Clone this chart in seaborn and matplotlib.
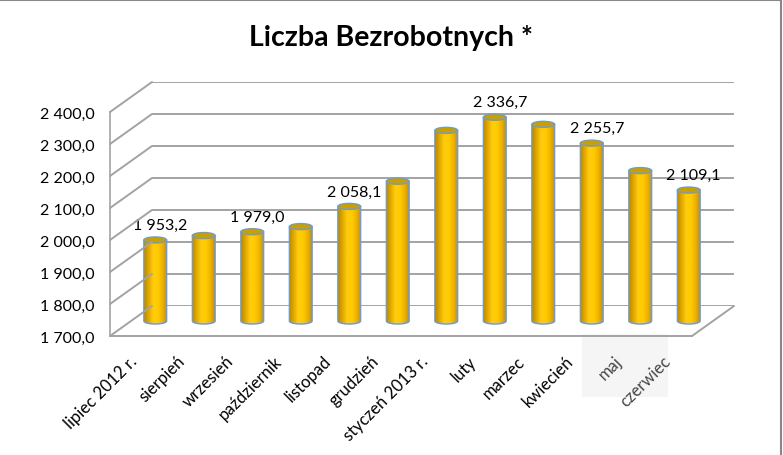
import numpy as np
import pandas as pd
import matplotlib
matplotlib.use("Agg")
import matplotlib.pyplot as plt
import seaborn as sns
from matplotlib.patches import Ellipse, ConnectionPatch, Rectangle, PathPatch
from matplotlib.colors import LinearSegmentedColormap
from matplotlib.lines import Line2D
from matplotlib.path import Path

# dane: liczba bezrobotnych (tys.)
miesiace = ["lipiec 2012 r.", "sierpień", "wrzesień", "październik", "listopad",
            "grudzień", "styczeń 2013 r.", "luty", "marzec", "kwiecień", "maj", "czerwiec"]
wartosci = [1953.2, 1967.0, 1979.0, 1995.0, 2058.1, 2136.8,
            2295.7, 2336.7, 2314.5, 2255.7, 2170.0, 2109.1]
opisane = [0, 2, 4, 7, 9, 11]          # słupki z etykietą wartości
y_ticks = [1700, 1800, 1900, 2000, 2100, 2200, 2300, 2400]
y_min, y_max = 1700, 2400

df = pd.DataFrame({"miesiac": miesiace, "wartosc": wartosci})


def fmt(v):
    # format polski: spacja jako separator tysięcy, przecinek dziesiętny
    return f"{v:,.1f}".replace(",", " ").replace(".", ",")


sns.set_theme(style="white")
plt.rcParams["font.family"] = ["Lato", "DejaVu Sans"]

W, H = 783, 456
fig = plt.figure(figsize=(W / 100, H / 100), dpi=100)

# geometria "3D": przednia ściana, płaszczyzna słupków, tylna ściana (w pikselach)
fx0, fx1, fy0, fy1 = 110, 692, 337, 113
dx, dy = 21, 15


def make_ax(ox, oy):
    a = fig.add_axes([(fx0 + ox) / W, (H - fy0 + oy) / H,
                      (fx1 - fx0) / W, (fy0 - fy1) / H])
    a.set_xlim(-0.5, len(miesiace) - 0.5)
    a.set_ylim(y_min, y_max)
    a.patch.set_alpha(0)
    for s in a.spines.values():
        s.set_visible(False)
    return a


ax_back = make_ax(2 * dx, 2 * dy)
ax_front = make_ax(0, 0)
ax = make_ax(dx, dy)

grid_col = "#a3a3a3"

# tylna ściana - linie siatki
ax_back.set_xticks([])
ax_back.set_yticks([])
for v in y_ticks:
    ax_back.axhline(v, color=grid_col, lw=1.4, zorder=0)

# boczna ściana i podłoga - ukośne linie
for v in y_ticks:
    fig.add_artist(ConnectionPatch(xyA=(-0.5, v), coordsA=ax_front.transData,
                                   xyB=(-0.5, v), coordsB=ax_back.transData,
                                   color=grid_col, lw=1.4))
fig.add_artist(ConnectionPatch(xyA=(len(miesiace) - 0.5, y_min), coordsA=ax_front.transData,
                               xyB=(len(miesiace) - 0.5, y_min), coordsB=ax_back.transData,
                               color=grid_col, lw=1.4))

# przednia oś Y
ax_front.spines["left"].set_visible(True)
ax_front.spines["left"].set_color(grid_col)
ax_front.spines["left"].set_linewidth(1.2)
ax_front.set_yticks(y_ticks)
ax_front.set_yticklabels([fmt(v) for v in y_ticks])
ax_front.tick_params(axis="y", direction="out", length=7, width=1.2, color=grid_col,
                     labelsize=11.5, pad=4, labelcolor="black")

# przednia krawędź podłogi
ax_front.add_line(Line2D([-0.5, len(miesiace) - 0.5], [y_min, y_min], color=grid_col,
                         lw=1.4, zorder=1, clip_on=False))
ax_front.set_xticks(np.arange(len(miesiace)))
ax_front.set_xticklabels(miesiace, rotation=45, ha="right", va="center",
                         rotation_mode="anchor")
ax_front.set_xticks(np.arange(-0.5, len(miesiace)), minor=True)
ax_front.tick_params(axis="x", which="major", length=0, pad=16, labelsize=12,
                     labelcolor="black")
ax_front.tick_params(axis="x", which="minor", direction="out", length=7, width=1.2,
                     color=grid_col)
for lab in ax_front.get_xticklabels()[10:]:
    lab.set_color("#474747")
for t in ax_front.xaxis.get_minor_ticks()[10:12]:
    t.tick1line.set_visible(False)

# jasne tło pod etykietami "maj" i "czerwiec"
fig.add_artist(Rectangle((582 / W, (H - 398) / H), 86 / W, 63 / H,
                         transform=fig.transFigure, facecolor="#f5f5f5",
                         edgecolor="none", zorder=-1))

# słupki (walce)
ax.set_xticks([])
ax.set_yticks([])
sns.barplot(data=df, x="miesiac", y="wartosc", ax=ax, width=0.47,
            color="#ffc800", edgecolor="none", linewidth=0, zorder=2)

cmap = LinearSegmentedColormap.from_list(
    "walec", ["#b88800", "#e2a800", "#ffcc10", "#ffcc00", "#f0b400", "#c89000"])
grad = np.linspace(0, 1, 256).reshape(1, -1)
e_h = 19
edge_col = "#6f9bd1"

for i, p in enumerate(ax.patches[:len(wartosci)]):
    x0 = p.get_x()
    w = p.get_width()
    top = p.get_height()
    xc = x0 + w / 2
    p.set_visible(False)
    # kształt walca: prostokąt + dolna półelipsa
    t = np.linspace(np.pi, 2 * np.pi, 40)
    verts = ([(x0, top), (x0, y_min)]
             + [(xc + w / 2 * np.cos(a), y_min + e_h / 2 * np.sin(a)) for a in t]
             + [(x0 + w, top), (x0, top)])
    shape = Path(verts)
    ax.add_patch(PathPatch(shape, facecolor="#eab400", edgecolor="none",
                           zorder=2.9, clip_on=False))
    pp = PathPatch(shape, facecolor="none", edgecolor=edge_col, lw=1.0,
                   zorder=4, clip_on=False)
    ax.add_patch(pp)
    im = ax.imshow(grad, extent=[x0, x0 + w, y_min - e_h, top], aspect="auto",
                   cmap=cmap, zorder=3, interpolation="bilinear")
    im.set_clip_box(fig.bbox)
    im.set_clip_path(pp)
    ax.add_patch(Ellipse((xc, top), w, e_h, facecolor="#c9a000", edgecolor=edge_col,
                         lw=1.0, zorder=5, clip_on=False))
    if i in opisane:
        ax.annotate(fmt(wartosci[i]), (xc, top), xytext=(5, 15),
                    textcoords="offset pixels", ha="center", va="center",
                    fontsize=11.5, color="black", annotation_clip=False)

ax.set_xlabel("")
ax.set_ylabel("")
ax.set_xlim(-0.5, len(miesiace) - 0.5)
ax.set_ylim(y_min, y_max)

fig.text(391 / W, 1 - 38 / H, "Liczba Bezrobotnych *", ha="center", va="center",
         fontsize=20.5, fontweight="bold", color="black")

# ramka (góra i prawa strona)
fig.add_artist(Line2D([0, 781 / W], [1 - 1 / H, 1 - 1 / H], transform=fig.transFigure,
                      color="#888888", lw=1.5))
fig.add_artist(Line2D([781 / W, 781 / W], [0, 1], transform=fig.transFigure,
                      color="#888888", lw=1.5))

fig.savefig("out.png", dpi=100)
